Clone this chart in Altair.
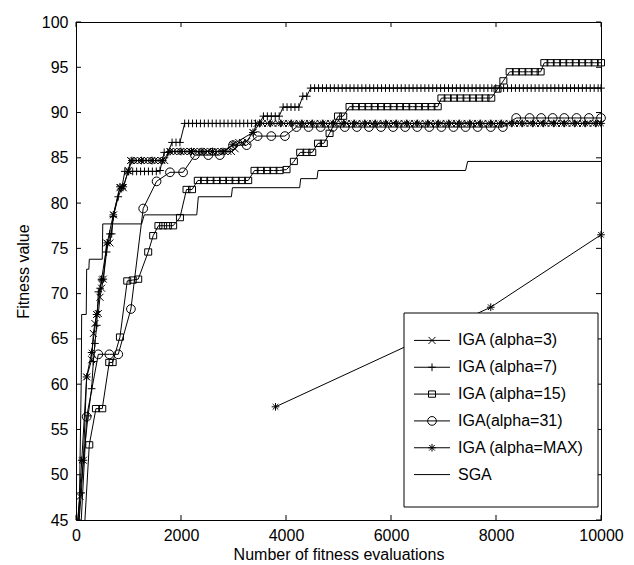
import altair as alt
import pandas as pd

# ---------------- data ----------------
x_ticks = [0, 2000, 4000, 6000, 8000, 10000]
y_ticks = [45, 50, 55, 60, 65, 70, 75, 80, 85, 90, 95, 100]

series_names = ["IGA (alpha=3)", "IGA (alpha=7)", "IGA (alpha=15)",
                "IGA(alpha=31)", "IGA (alpha=MAX)", "SGA"]

alpha3 = [(30, 45), (76, 47.6), (140, 51.6), (203, 60.8), (298, 62.7), (330, 65.6), (360, 66.7),
          (393, 67.7), (425, 67.8), (457, 69.6), (488, 70.6), (520, 71.6), (583, 75.6), (647, 75.6),
          (715, 78.7), (837, 81.7), (900, 81.7), (995, 83.6),
          (1040, 84.7), (1105, 84.7), (1170, 84.7), (1235, 84.7), (1300, 84.7), (1365, 84.7),
          (1430, 84.7), (1495, 84.7), (1560, 84.7), (1625, 84.7), (1690, 84.7),
          (1790, 85.7), (1855, 85.7), (1920, 85.7), (1985, 85.7), (2050, 85.7), (2115, 85.7),
          (2180, 85.7), (2245, 85.7), (2310, 85.7), (2375, 85.7), (2440, 85.7), (2505, 85.7),
          (2570, 85.7), (2635, 85.7), (2700, 85.7), (2765, 85.7), (2830, 85.7), (2895, 85.7),
          (2960, 85.7), (3030, 86.0), (3100, 86.7), (3170, 86.7), (3250, 86.8), (3370, 87.8),
          (3450, 88.8), (3550, 88.8), (3650, 88.8), (3750, 88.8), (3850, 88.8), (3950, 88.8),
          (4050, 88.8), (4150, 88.8), (4250, 88.8), (4350, 88.8), (4450, 88.8), (4550, 88.8),
          (4650, 88.8), (4750, 88.8), (4850, 88.8), (4950, 88.8), (5050, 88.8), (5150, 88.8),
          (5250, 88.8), (5350, 88.8), (5450, 88.8), (5550, 88.8), (5650, 88.8), (5750, 88.8),
          (5850, 88.8), (5950, 88.8), (6050, 88.8), (6150, 88.8), (6250, 88.8), (6350, 88.8),
          (6450, 88.8), (6550, 88.8), (6650, 88.8), (6750, 88.8), (6850, 88.8), (6950, 88.8),
          (7050, 88.8), (7150, 88.8), (7250, 88.8), (7350, 88.8), (7450, 88.8), (7550, 88.8),
          (7650, 88.8), (7750, 88.8), (7850, 88.8), (7950, 88.8), (8050, 88.8), (8150, 88.8),
          (8250, 88.8), (8350, 88.8), (8450, 88.8), (8550, 88.8), (8650, 88.8), (8750, 88.8),
          (8850, 88.8), (8950, 88.8), (9050, 88.8), (9150, 88.8), (9250, 88.8), (9350, 88.8),
          (9450, 88.8), (9550, 88.8), (9650, 88.8), (9750, 88.8), (9850, 88.8), (9950, 88.8)]

alpha7 = [(60, 45), (100, 48), (140, 51.6), (230, 56.5), (298, 59.5), (330, 62.5), (360, 64.5),
          (395, 66.5), (425, 70.2), (460, 70.6), (488, 71.5), (520, 71.6), (583, 74.6), (647, 76.6),
          (680, 76.6), (710, 78.5), (805, 80.7), (870, 81.6),
          (930, 83.5), (1005, 83.5), (1080, 83.5), (1155, 83.5), (1230, 83.5), (1305, 83.5),
          (1380, 83.5), (1455, 83.5), (1530, 83.5), (1600, 83.6), (1680, 85.6), (1750, 85.6),
          (1830, 86.7), (1905, 86.7), (1980, 86.7),
          (2070, 88.8), (2145, 88.8), (2220, 88.8), (2295, 88.8), (2370, 88.8), (2445, 88.8),
          (2520, 88.8), (2595, 88.8), (2670, 88.8), (2745, 88.8), (2820, 88.8), (2895, 88.8),
          (2970, 88.8), (3045, 88.8), (3120, 88.8), (3195, 88.8), (3270, 88.8), (3345, 88.8),
          (3420, 88.8), (3495, 88.8),
          (3570, 89.6), (3645, 89.6), (3720, 89.6), (3795, 89.6), (3870, 89.6),
          (3945, 90.6), (4020, 90.6), (4095, 90.6), (4170, 90.6), (4245, 90.6),
          (4320, 91.8), (4395, 91.8),
          (4470, 92.7), (4545, 92.7), (4620, 92.7), (4695, 92.7), (4770, 92.7), (4845, 92.7),
          (4920, 92.7), (4995, 92.7), (5070, 92.7), (5145, 92.7), (5220, 92.7), (5295, 92.7),
          (5370, 92.7), (5445, 92.7), (5520, 92.7), (5595, 92.7), (5670, 92.7), (5745, 92.7),
          (5820, 92.7), (5895, 92.7), (5970, 92.7), (6045, 92.7), (6120, 92.7), (6195, 92.7),
          (6270, 92.7), (6345, 92.7), (6420, 92.7), (6495, 92.7), (6570, 92.7), (6645, 92.7),
          (6720, 92.7), (6795, 92.7), (6870, 92.7), (6945, 92.7), (7020, 92.7), (7095, 92.7),
          (7170, 92.7), (7245, 92.7), (7320, 92.7), (7395, 92.7), (7470, 92.7), (7545, 92.7),
          (7620, 92.7), (7695, 92.7), (7770, 92.7), (7845, 92.7), (7920, 92.7), (7995, 92.7),
          (8070, 92.7), (8145, 92.7), (8220, 92.7), (8295, 92.7), (8370, 92.7), (8445, 92.7),
          (8520, 92.7), (8595, 92.7), (8670, 92.7), (8745, 92.7), (8820, 92.7), (8895, 92.7),
          (8970, 92.7), (9045, 92.7), (9120, 92.7), (9195, 92.7), (9270, 92.7), (9345, 92.7),
          (9420, 92.7), (9495, 92.7), (9570, 92.7), (9645, 92.7), (9720, 92.7), (9795, 92.7),
          (9870, 92.7), (9945, 92.7), (10000, 92.7)]

alpha15 = [(170, 45), (253, 53.3), (380, 57.3), (500, 57.3), (633, 62.4), (698, 62.4), (837, 65.2),
           (976, 71.4), (1080, 71.5), (1185, 71.6), (1375, 74.6), (1470, 76.4), (1570, 77.5),
           (1660, 77.5), (1750, 77.5), (1850, 77.5), (1980, 78.4), (2105, 81.5), (2210, 81.5),
           (2320, 82.5), (2440, 82.5), (2560, 82.5), (2680, 82.5), (2800, 82.5), (2920, 82.5),
           (3040, 82.5), (3160, 82.5), (3280, 82.5), (3400, 83.6), (3520, 83.6), (3640, 83.6),
           (3760, 83.6), (3880, 83.6), (4010, 83.7), (4150, 84.6), (4270, 85.6), (4390, 85.6),
           (4500, 85.6), (4610, 86.6), (4720, 86.6), (4830, 87.7), (4990, 89.6), (5090, 89.6),
           (5210, 90.65), (5330, 90.65), (5450, 90.65), (5570, 90.65), (5690, 90.65), (5810, 90.65),
           (5930, 90.65), (6050, 90.65), (6170, 90.65), (6290, 90.65), (6410, 90.65), (6530, 90.65),
           (6650, 90.65), (6770, 90.65), (6890, 90.65), (6960, 91.6), (7080, 91.6), (7200, 91.6),
           (7320, 91.6), (7440, 91.6), (7560, 91.6), (7680, 91.6), (7800, 91.6), (7910, 91.6),
           (8030, 92.6), (8140, 93.5), (8260, 94.5), (8380, 94.5), (8500, 94.5), (8620, 94.5),
           (8740, 94.5), (8850, 94.5), (8920, 95.5), (9040, 95.5), (9160, 95.5), (9280, 95.5),
           (9400, 95.5), (9520, 95.5), (9640, 95.5), (9760, 95.5), (9880, 95.5), (10000, 95.5)]

alpha31 = [(100, 45), (203, 56.4), (425, 63.3), (635, 63.3), (805, 63.3), (1046, 68.3), (1280, 79.4),
           (1535, 82.4), (1790, 83.4), (2040, 83.4), (2265, 85.3), (2520, 85.3), (2740, 85.3),
           (2990, 86.4), (3250, 86.4), (3460, 87.4), (3720, 87.4), (3980, 87.4), (4200, 88.4),
           (4430, 88.4), (4660, 88.4), (4890, 88.4), (5120, 88.4), (5350, 88.4), (5580, 88.4),
           (5810, 88.4), (6040, 88.4), (6270, 88.4), (6500, 88.4), (6730, 88.4), (6960, 88.4),
           (7190, 88.4), (7420, 88.4), (7650, 88.4), (7900, 88.4), (8130, 88.4), (8385, 89.4),
           (8640, 89.4), (8860, 89.4), (9080, 89.4), (9300, 89.4), (9535, 89.4), (9770, 89.4),
           (10000, 89.4)]

alphamax = [(40, 45), (110, 51.6), (203, 60.8), (298, 63.5), (393, 67.7), (488, 71.6), (595, 75.6),
            (710, 78.7), (837, 81.8), (900, 81.8), (995, 83.5), (1065, 84.7), (1250, 84.7),
            (1450, 84.7), (1650, 84.7), (1790, 85.7), (2000, 85.7), (2200, 85.7), (2400, 85.7),
            (2600, 85.7), (2800, 85.7), (2990, 86.5), (3370, 87.8), (3500, 88.8), (3700, 88.8),
            (3900, 88.8), (4100, 88.8), (4300, 88.8), (4500, 88.8), (4700, 88.8), (4900, 88.8),
            (5100, 88.8), (5300, 88.8), (5500, 88.8), (5700, 88.8), (5900, 88.8), (6100, 88.8),
            (6300, 88.8), (6500, 88.8), (6700, 88.8), (6900, 88.8), (7100, 88.8), (7300, 88.8),
            (7500, 88.8), (7700, 88.8), (7900, 88.8), (8100, 88.8), (8300, 88.8), (8500, 88.8),
            (8700, 88.8), (8900, 88.8), (9100, 88.8), (9300, 88.8), (9500, 88.8), (9700, 88.8),
            (9900, 88.8), (10000, 88.8)]
alphamax_low = [(3800, 57.5), (7900, 68.5), (10000, 76.5)]

sga = [(60, 45), (100, 60.5), (108, 67.7), (195, 67.7), (203, 72.7), (245, 72.7), (253, 73.8),
       (500, 73.8), (510, 77.7), (1250, 77.7), (1300, 78.7), (2300, 78.7), (2330, 80.7),
       (2960, 80.7), (2980, 81.7), (4260, 81.7), (4280, 82.7), (4590, 82.7), (4610, 83.6),
       (7420, 83.6), (7460, 84.6), (10000, 84.6)]

# ---------------- tidy table ----------------
groups = [
    (series_names[0], [alpha3]),
    (series_names[1], [alpha7]),
    (series_names[2], [alpha15]),
    (series_names[3], [alpha31]),
    (series_names[4], [alphamax, alphamax_low]),
    (series_names[5], [sga]),
]
rows = []
for name, segs in groups:
    for si, seg in enumerate(segs):
        for i, (xv, yv) in enumerate(seg):
            rows.append({"series": name, "seg": f"{name}#{si}", "x": xv, "y": yv, "idx": i})
df = pd.DataFrame(rows)

# ---------------- styling ----------------
W, H = 525, 498
FONT = "Liberation Sans"
marker_paths = [
    "M-1,-1L1,1M-1,1L1,-1",                                   # x
    "M-1.1,0H1.1M0,-1.1V1.1",                                 # +
    "M-1,-0.9H1V0.9H-1Z",                                     # square
    "M1.25,0A1.25,1.25,0,1,1,-1.25,0A1.25,1.25,0,1,1,1.25,0Z",  # circle
    "M-1.1,0H1.1M0,-1.1V1.1M-0.8,-0.8L0.8,0.8M-0.8,0.8L0.8,-0.8",  # asterisk
]
iga_names = series_names[:5]

xs = alt.Scale(domain=[0, 10000], nice=False, zero=False)
ys = alt.Scale(domain=[45, 100], nice=False, zero=False)

x_enc = alt.X("x:Q", scale=xs, axis=alt.Axis(values=x_ticks, ticks=False, domain=False, grid=False,
                                            format="d", labelPadding=7,
                                            title="Number of fitness evaluations",
                                            titlePadding=3, labelFlush=False))
y_enc = alt.Y("y:Q", scale=ys, axis=alt.Axis(values=y_ticks, ticks=False, domain=False, grid=False,
                                            format="d", labelPadding=8, title="Fitness value",
                                            titlePadding=10))

lines = alt.Chart(df).mark_line(color="black", strokeWidth=1).encode(
    x=x_enc, y=y_enc, detail="seg:N", order="idx:Q")

points = alt.Chart(df).transform_filter(
    (alt.datum.series != "SGA") & (alt.datum.y > 45)).mark_point(
    color="black", filled=False, size=49, strokeWidth=1, opacity=1).encode(
    x=alt.X("x:Q", scale=xs), y=alt.Y("y:Q", scale=ys),
    shape=alt.Shape("series:N", scale=alt.Scale(domain=iga_names, range=marker_paths), legend=None))

xt = pd.DataFrame({"t": x_ticks})
yt = pd.DataFrame({"t": y_ticks})
tick_b = alt.Chart(xt).mark_rule(color="black", strokeWidth=1).encode(
    x=alt.X("t:Q", scale=xs), y=alt.value(H), y2=alt.value(H - 5))
tick_t = alt.Chart(xt).mark_rule(color="black", strokeWidth=1).encode(
    x=alt.X("t:Q", scale=xs), y=alt.value(0), y2=alt.value(5))
tick_l = alt.Chart(yt).mark_rule(color="black", strokeWidth=1).encode(
    y=alt.Y("t:Q", scale=ys), x=alt.value(0), x2=alt.value(5))
tick_r = alt.Chart(yt).mark_rule(color="black", strokeWidth=1).encode(
    y=alt.Y("t:Q", scale=ys), x=alt.value(W - 5), x2=alt.value(W))

main = alt.layer(lines, points, tick_b, tick_t, tick_l, tick_r)

# ---------------- legend (drawn with marks) ----------------
leg = pd.DataFrame({"series": series_names})
LX0, LX1, LY0, LY1 = 328, 522, 291, 485
ly = alt.Y("series:N", scale=alt.Scale(domain=series_names, range=[305, 466], padding=0), axis=None)

leg_box = alt.Chart(pd.DataFrame({"k": [0]})).mark_rect(
    fill="white", stroke="black", strokeWidth=1).encode(
    x=alt.value(LX0), x2=alt.value(LX1), y=alt.value(LY0), y2=alt.value(LY1))
leg_line = alt.Chart(leg).mark_rule(color="black", strokeWidth=1).encode(
    y=ly, x=alt.value(338), x2=alt.value(374))
leg_pts = alt.Chart(leg).transform_filter(alt.datum.series != "SGA").mark_point(
    color="black", filled=False, size=49, strokeWidth=1, opacity=1).encode(
    y=ly, x=alt.value(356),
    shape=alt.Shape("series:N", scale=alt.Scale(domain=iga_names, range=marker_paths), legend=None))
leg_txt = alt.Chart(leg).mark_text(align="left", baseline="middle", font=FONT, fontSize=16,
                                   color="black").encode(
    y=ly, x=alt.value(382), text="series:N")

legend = alt.layer(leg_box, leg_line, leg_pts, leg_txt)

chart = alt.layer(main, legend).resolve_scale(y="independent").properties(
    width=W, height=H,
    background="white",
    autosize=alt.AutoSizeParams(type="none"),
    padding={"left": 68, "top": 14, "right": 25, "bottom": 43},
).configure_view(stroke="black", strokeWidth=1).configure_axis(
    labelFont=FONT, labelFontSize=16, labelColor="black",
    titleFont=FONT, titleFontSize=16, titleFontWeight="normal", titleColor="black",
)

chart.save("out.html", embed_options={"renderer": "svg", "actions": False})
